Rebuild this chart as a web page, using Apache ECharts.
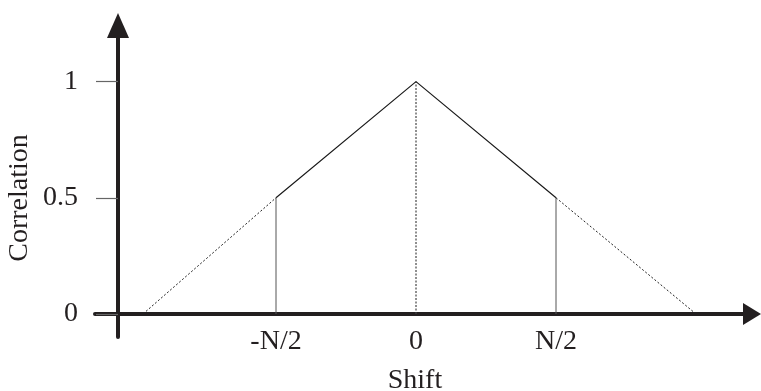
<!DOCTYPE html>
<html>
<head>
<meta charset="utf-8">
<style>
  html, body { margin: 0; padding: 0; background: #ffffff; }
  #chart { width: 761px; height: 391px; }
</style>
<script src="https://cdn.jsdelivr.net/npm/echarts@6/dist/echarts.min.js"></script>
</head>
<body>
<div id="chart"></div>
<script>
// Shift is measured in units of N/2; correlation is normalised to 1 at zero shift.
const shiftTicks = [-1, 0, 1];
const shiftTickLabels = ['-N/2', '0', 'N/2'];
const corrTicks = [0, 0.5, 1];

// Overlapping region of the triangle (solid)
const overlapShift = [-1, 0, 1];
const overlapCorr = [0.5, 1, 0.5];

// Tails outside ±N/2 (dotted)
const leftTailShift = [-1.95, -1];
const leftTailCorr = [0, 0.5];
const rightTailShift = [1, 2];
const rightTailCorr = [0.5, 0];

// Drop lines from the curve to the axis
const dropShift = [-1, 0, 1];
const dropCorr = [0.5, 1, 0.5];
const dropDotted = [false, true, false];

const ink = '#231f20';
const serif = "'Liberation Serif', 'Times New Roman', serif";

const zip = (xs, ys) => xs.map((x, i) => [x, ys[i]]);

const series = [
  {
    type: 'line', data: zip(overlapShift, overlapCorr), symbol: 'none',
    lineStyle: { color: '#1a1a1a', width: 1.2 }, silent: true, z: 3
  },
  {
    type: 'line', data: zip(leftTailShift, leftTailCorr), symbol: 'none',
    lineStyle: { color: '#222', width: 1, type: [2, 2] }, silent: true, z: 3
  },
  {
    type: 'line', data: zip(rightTailShift, rightTailCorr), symbol: 'none',
    lineStyle: { color: '#222', width: 1, type: [2, 2] }, silent: true, z: 3
  }
];

dropShift.forEach((s, i) => {
  series.push({
    type: 'line', data: [[s, 0], [s, dropCorr[i]]], symbol: 'none',
    lineStyle: dropDotted[i]
      ? { color: '#444', width: 1.2, type: [2, 1.5] }
      : { color: '#555', width: 1 },
    silent: true, z: 2
  });
});

const chart = echarts.init(document.getElementById('chart'), null, { renderer: 'canvas' });
chart.setOption({
  animation: false,
  backgroundColor: '#ffffff',
  grid: { left: 95, right: 9, top: 25.5, bottom: 54, containLabel: false, outerBoundsMode: 'none' },
  xAxis: {
    type: 'value',
    min: -2.2929, max: 2.4,
    name: 'Shift',
    nameLocation: 'middle',
    nameGap: 30,
    nameMoveOverlap: false,
    nameTextStyle: { fontFamily: serif, fontSize: 28, color: ink, padding: [0, 17, 0, 0] },
    axisLine: {
      onZero: true,
      symbol: ['none', 'triangle'],
      symbolSize: [22, 18],
      lineStyle: { color: ink, width: 4 }
    },
    axisTick: { show: false },
    axisLabel: {
      customValues: shiftTicks,
      formatter: v => shiftTickLabels[shiftTicks.indexOf(v)] ?? '',
      fontFamily: serif, fontSize: 28, color: ink, margin: -9
    },
    splitLine: { show: false }
  },
  yAxis: {
    type: 'value',
    min: -0.0991, max: 1.2414,
    offset: -23,
    axisLine: {
      onZero: false,
      symbol: ['none', 'triangle'],
      symbolSize: [22, 25],
      lineStyle: { color: ink, width: 4 }
    },
    axisTick: {
      customValues: corrTicks,
      length: 22,
      lineStyle: { color: '#666', width: 1.2 }
    },
    axisLabel: {
      customValues: corrTicks,
      formatter: v => String(v),
      fontFamily: serif, fontSize: 28, color: ink, margin: 40
    },
    splitLine: { show: false }
  },
  graphic: [{
    type: 'text',
    x: 20, y: 198,
    rotation: Math.PI / 2,
    style: {
      text: 'Correlation',
      font: "28px 'Liberation Serif', 'Times New Roman', serif",
      fill: ink,
      align: 'center',
      verticalAlign: 'middle'
    }
  }],
  series
});
</script>
</body>
</html>
